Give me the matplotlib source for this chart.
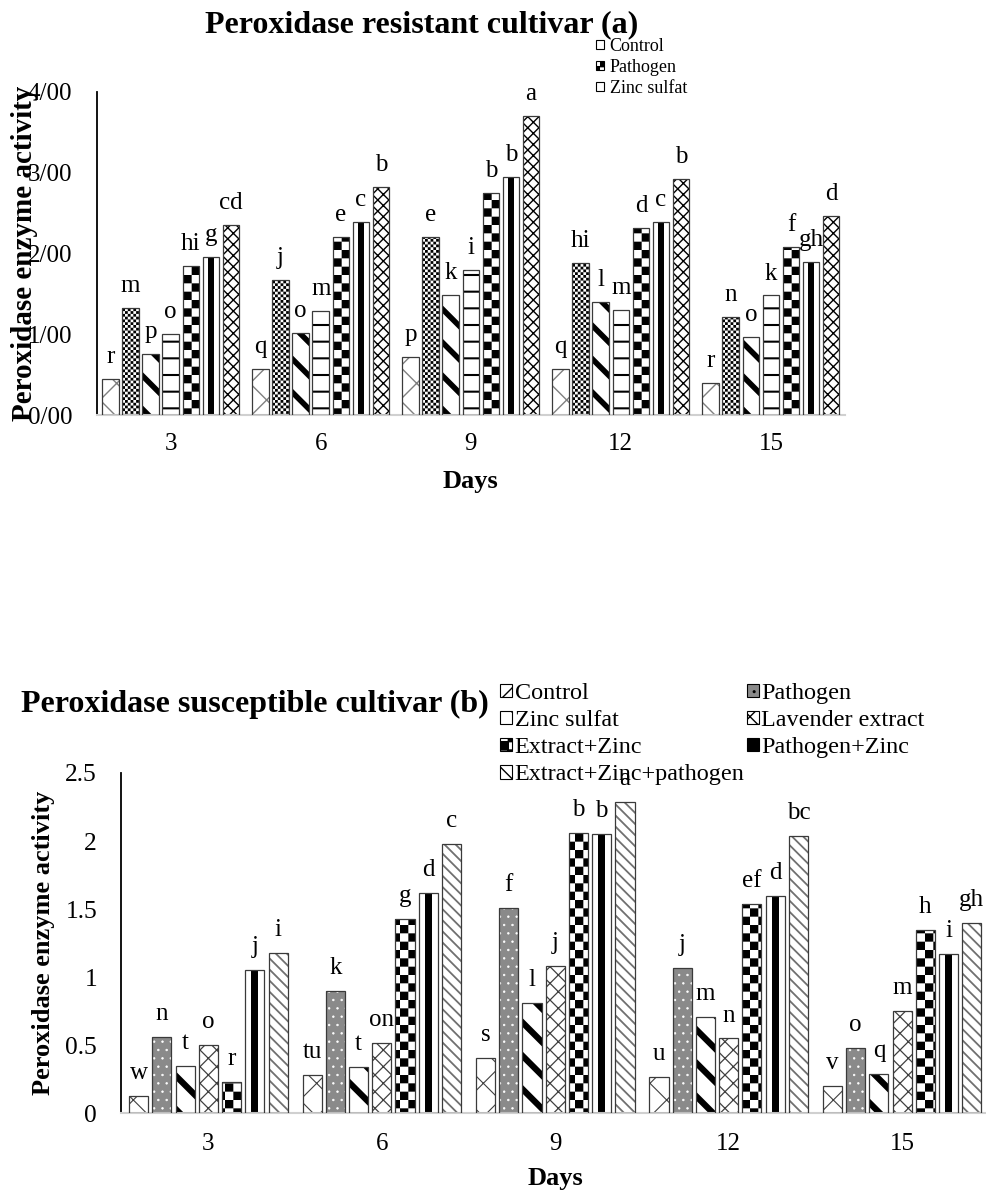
import numpy as np
import matplotlib
matplotlib.use("Agg")
import matplotlib.pyplot as plt
import matplotlib.hatch as mhatch
import matplotlib.patches as mpatches
from matplotlib.path import Path

plt.rcParams['font.family'] = ['Liberation Serif', 'DejaVu Serif']


# checkerboard fill for the '*' hatch character (replaces the stars pattern)
class CheckerHatch(mhatch.HatchPatternBase):
    def __init__(self, hatch, density):
        n = hatch.count('*')
        self.cells = 6 * n
        self.num_vertices = (self.cells ** 2 // 2) * 5

    def set_vertices_and_codes(self, vertices, codes):
        s = 1.0 / self.cells
        sq = np.array([[0, 0], [s, 0], [s, s], [0, s], [0, 0]])
        parts = [sq + [i * s, j * s] for i in range(self.cells)
                 for j in range(self.cells) if (i + j) % 2 == 0]
        vertices[:] = np.concatenate(parts)
        codes[:] = np.tile([Path.MOVETO, Path.LINETO, Path.LINETO,
                            Path.LINETO, Path.CLOSEPOLY], len(parts))


mhatch._hatch_types = [t for t in mhatch._hatch_types
                       if t is not mhatch.Stars] + [CheckerHatch]

# ---------------- data ----------------
days = ['3', '6', '9', '12', '15']
treatments = ['Control', 'Pathogen', 'Zinc sulfat', 'Lavender extract',
              'Extract+Zinc', 'Pathogen+Zinc', 'Extract+Zinc+pathogen']

# resistant cultivar (a)
res_control = [0.45, 0.57, 0.72, 0.57, 0.40]
res_pathogen = [1.32, 1.67, 2.20, 1.88, 1.21]
res_zinc = [0.75, 1.02, 1.49, 1.40, 0.97]
res_lavender = [1.00, 1.29, 1.80, 1.30, 1.48]
res_extract_zinc = [1.84, 2.20, 2.75, 2.31, 2.08]
res_pathogen_zinc = [1.96, 2.39, 2.95, 2.39, 1.90]
res_all = [2.35, 2.82, 3.70, 2.92, 2.46]

res_letters = [['r', 'q', 'p', 'q', 'r'],
               ['m', 'j', 'e', 'hi', 'n'],
               ['p', 'o', 'k', 'l', 'o'],
               ['o', 'm', 'i', 'm', 'k'],
               ['hi', 'e', 'b', 'd', 'f'],
               ['g', 'c', 'b', 'c', 'gh'],
               ['cd', 'b', 'a', 'b', 'd']]
res_ticks = [0, 1, 2, 3, 4]
res_ticklabels = ['0/00', '1/00', '2/00', '3/00', '4/00']

# susceptible cultivar (b)
sus_control = [0.13, 0.28, 0.41, 0.27, 0.20]
sus_pathogen = [0.56, 0.90, 1.51, 1.07, 0.48]
sus_zinc = [0.35, 0.34, 0.81, 0.71, 0.29]
sus_lavender = [0.50, 0.52, 1.08, 0.55, 0.75]
sus_extract_zinc = [0.23, 1.43, 2.06, 1.54, 1.35]
sus_pathogen_zinc = [1.05, 1.62, 2.05, 1.60, 1.17]
sus_all = [1.18, 1.98, 2.29, 2.04, 1.40]

sus_letters = [['w', 'tu', 's', 'u', 'v'],
               ['n', 'k', 'f', 'j', 'o'],
               ['t', 't', 'l', 'm', 'q'],
               ['o', 'on', 'j', 'n', 'm'],
               ['r', 'g', 'b', 'ef', 'h'],
               ['j', 'd', 'b', 'd', 'i'],
               ['i', 'c', 'a', 'bc', 'gh']]
sus_ticks = [0, 0.5, 1, 1.5, 2, 2.5]
sus_ticklabels = ['0', '0.5', '1', '1.5', '2', '2.5']

res_values = [res_control, res_pathogen, res_zinc, res_lavender,
              res_extract_zinc, res_pathogen_zinc, res_all]
sus_values = [sus_control, sus_pathogen, sus_zinc, sus_lavender,
              sus_extract_zinc, sus_pathogen_zinc, sus_all]

# (face, hatch, hatch colour, hatch linewidth, centre stripe)
res_styles = [('white', 'x', '#808080', 1.0, False),
              ('white', '******', 'black', 0.0, False),
              ('white', '\\', 'black', 4.0, False),
              ('white', '-', 'black', 1.5, False),
              ('white', '**', 'black', 0.0, False),
              ('white', '', 'black', 0.0, True),
              ('white', 'xxx', 'black', 1.0, False)]
sus_styles = [('white', 'x', '#404040', 0.8, False),
              ('#8a8a8a', '..', 'white', 0.5, False),
              ('white', '\\', 'black', 4.5, False),
              ('white', 'xx', '#404040', 0.9, False),
              ('white', '**', 'black', 0.0, False),
              ('white', '', 'black', 0.0, True),
              ('white', '\\\\\\', '#707070', 1.3, False)]

slot = 0.134
bar_w = 0.11
x = np.arange(len(days))


def draw_chart(ax, values, letters, styles, letter_pad):
    handles = []
    for i, (vals, labs, st) in enumerate(zip(values, letters, styles)):
        face, hatch, hcol, hlw, stripe = st
        pos = x + (i - 3) * slot
        bars = ax.bar(pos, vals, width=bar_w, color=face, edgecolor=hcol,
                      hatch=hatch if hatch else None, linewidth=0, zorder=2)
        for b in bars:
            if hasattr(b, 'set_hatch_linewidth'):
                b.set_hatch_linewidth(hlw)
        if stripe:
            ax.bar(pos, vals, width=bar_w * 0.35, color='black',
                   linewidth=0, zorder=2.5)
        ax.bar(pos, vals, width=bar_w, fill=False, edgecolor='#3a3a3a',
               linewidth=0.9, zorder=3)
        for p, v, t in zip(pos, vals, labs):
            ax.annotate(t, (p, v), xytext=(0, letter_pad),
                        textcoords='offset points', ha='center',
                        va='baseline', fontsize=18)
        # small outlined key for the legend
        key = mpatches.Patch(facecolor='black' if stripe else face,
                             edgecolor='black', linewidth=0.8,
                             hatch=(hatch[:2] if hatch else None))
        handles.append(key)
    ax.set_xticks(x)
    ax.set_xticklabels(days, fontsize=18)
    ax.spines['top'].set_visible(False)
    ax.spines['right'].set_visible(False)
    ax.spines['left'].set_linewidth(1.3)
    ax.spines['bottom'].set_color('#d0d0d0')
    ax.spines['bottom'].set_linewidth(1.5)
    return handles


fig = plt.figure(figsize=(9.87, 11.96), dpi=100)

# ---------- resistant cultivar ----------
ax1 = fig.add_axes([0.098, 0.6530, 0.758, 0.2701])
h1 = draw_chart(ax1, res_values, res_letters, res_styles, 11.5)
ax1.set_xlim(-0.493, 4.493)
ax1.set_ylim(0, 4)
ax1.set_yticks(res_ticks)
ax1.set_yticklabels(res_ticklabels, fontsize=18)
ax1.tick_params(axis='both', length=0)
ax1.tick_params(axis='y', pad=17.5)
ax1.tick_params(axis='x', pad=13)
ax1.set_ylabel('Peroxidase enzyme activity', fontsize=21, fontweight='bold',
               va='center')
ax1.yaxis.set_label_coords(-0.096, 0.5)
ax1.set_xlabel('Days', fontsize=19, fontweight='bold', va='center')
ax1.xaxis.set_label_coords(0.5, -0.207)
fig.text(422 / 987, 1 - 32 / 1196, 'Peroxidase resistant cultivar (a)',
         ha='center', va='baseline', fontsize=23, fontweight='bold')
ax1.legend(h1[:3], treatments[:3], loc='upper left',
           bbox_to_anchor=(587 / 987, 1 - 29 / 1196),
           bbox_transform=fig.transFigure, frameon=False, fontsize=13,
           borderpad=0, labelspacing=0.22, handlelength=0.45,
           handleheight=0.45, handletextpad=0.3)

# ---------- susceptible cultivar ----------
ax2 = fig.add_axes([0.1223, 0.0691, 0.8805, 0.2846])
h2 = draw_chart(ax2, sus_values, sus_letters, sus_styles, 12.2)
ax2.set_xlim(-0.505, 4.505)
ax2.set_ylim(0, 2.5)
ax2.set_yticks(sus_ticks)
ax2.set_yticklabels(sus_ticklabels, fontsize=18.4)
ax2.tick_params(axis='both', length=0)
ax2.tick_params(axis='y', pad=17)
ax2.tick_params(axis='x', pad=14)
ax2.set_ylabel('Peroxidase enzyme activity', fontsize=19, fontweight='bold',
               va='center')
ax2.yaxis.set_label_coords(-0.0894, 0.5)
ax2.set_xlabel('Days', fontsize=19, fontweight='bold', va='center')
ax2.xaxis.set_label_coords(0.5, -0.190)
fig.text(255 / 987, 1 - 712 / 1196, 'Peroxidase susceptible cultivar (b)',
         ha='center', va='baseline', fontsize=23, fontweight='bold')
order = [0, 2, 4, 6, 1, 3, 5]
ax2.legend([h2[k] for k in order], [treatments[k] for k in order],
           ncol=2, loc='upper left',
           bbox_to_anchor=(488 / 987, 1 - 671 / 1196),
           bbox_transform=fig.transFigure, frameon=False, fontsize=17.4,
           borderpad=0, labelspacing=0.25, handlelength=0.5,
           handleheight=0.5, handletextpad=0.1, columnspacing=0.1)

fig.savefig('out.png', dpi=100)
